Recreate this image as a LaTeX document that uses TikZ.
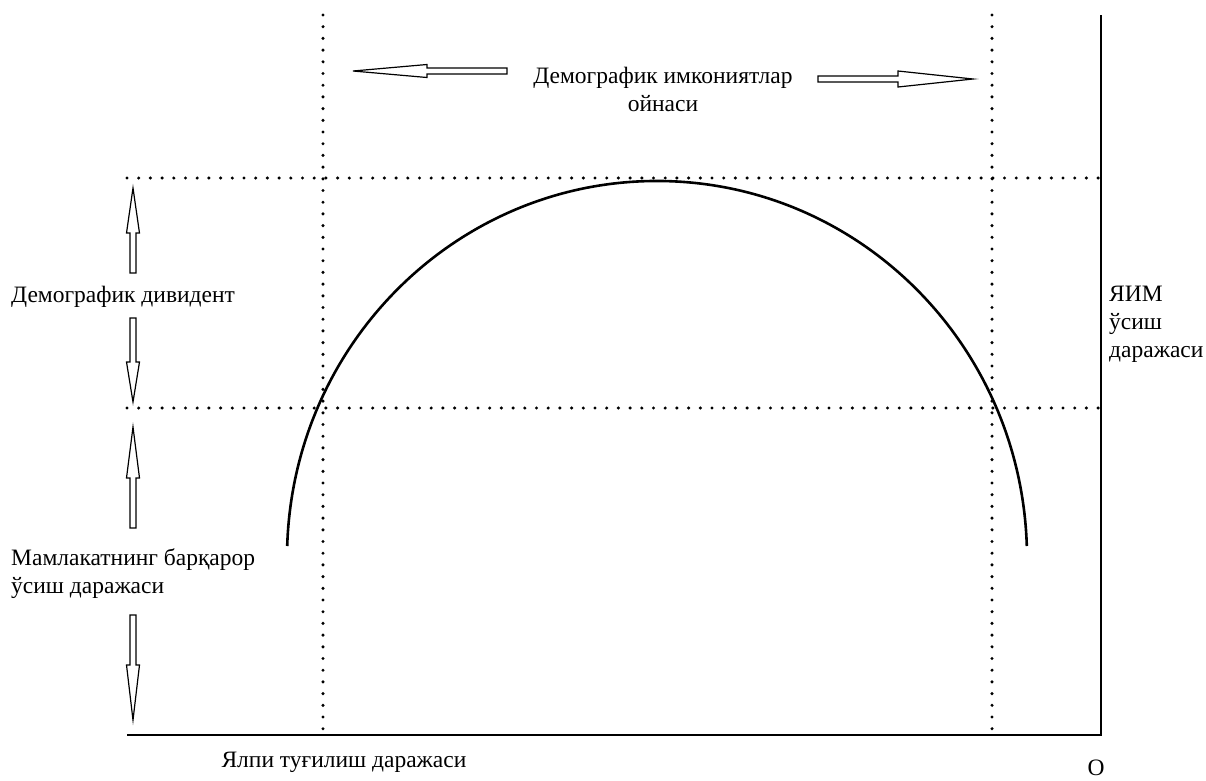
\documentclass[tikz,border=0pt]{standalone}
\usepackage{fontspec}
\setmainfont{Liberation Serif}
\begin{document}
\begin{tikzpicture}[x=1pt,y=-1pt,
  lbl/.style={inner sep=0pt, font=\fontsize{23.5}{28}\selectfont},
  dots/.style={line width=3.4pt, line cap=round, dash pattern=on 0pt off 11.7pt},
  axisline/.style={line width=2pt},
  curve/.style={line width=2.6pt},
  barrow/.style={draw, line width=1.2pt, fill=white, line join=miter}]
\useasboundingbox (0,0) rectangle (1206,780);
% axes
\coordinate (ytop) at (1101,15);
\coordinate (orig) at (1101,735);
\coordinate (xleft) at (127,735);
\draw[axisline] (ytop) -- (orig) -- (xleft);
% dotted guides
\coordinate (v1t) at (323,15);  \coordinate (v1b) at (323,735);
\coordinate (v2t) at (992,15);  \coordinate (v2b) at (992,735);
\coordinate (h1l) at (127,178); \coordinate (h1r) at (1101,178);
\coordinate (h2l) at (127,408); \coordinate (h2r) at (1101,408);
\draw[dots] (v1t) -- (v1b);
\draw[dots] (v2t) -- (v2b);
\draw[dots] (h1l) -- (h1r);
\draw[dots] (h2l) -- (h2r);
% curve
\coordinate (arcL) at (287.2,546);
\draw[curve] (arcL) arc[start angle=181.82, end angle=358.18, x radius=370, y radius=377];
% block arrows
\draw[barrow] (130,273) -- (130,233) -- (126.5,233) -- (133,188) -- (139.5,233) -- (136,233) -- (136,273) -- cycle;
\draw[barrow] (130,318) -- (130,362) -- (126.5,362) -- (133,402) -- (139.5,362) -- (136,362) -- (136,318) -- cycle;
\draw[barrow] (130,528) -- (130,478) -- (126.5,478) -- (133,427) -- (139.5,478) -- (136,478) -- (136,528) -- cycle;
\draw[barrow] (130,615) -- (130,665) -- (126.5,665) -- (133,720) -- (139.5,665) -- (136,665) -- (136,615) -- cycle;
\draw[barrow] (507,68) -- (427,68) -- (427,64.5) -- (353,71) -- (427,77.5) -- (427,74) -- (507,74) -- cycle;
\draw[barrow] (818,76) -- (898,76) -- (898,71) -- (973,79) -- (898,87) -- (898,82) -- (818,82) -- cycle;
% labels
\node[lbl, align=center] (window) at (663,89) {Демографик имкониятлар\\ойнаси};
\node[lbl, anchor=west] (dividend) at (11,297) {Демографик дивидент};
\node[lbl, anchor=west, align=left] (stable) at (11,574) {Мамлакатнинг барқарор\\ўсиш даражаси};
\node[lbl, anchor=west, align=left] (gdp) at (1109,324) {ЯИМ\\ўсиш\\даражаси};
\node[lbl] (tfr) at (344,762) {Ялпи туғилиш даражаси};
\node[lbl] (origin) at (1096,768) {O};
\end{tikzpicture}
\end{document}
